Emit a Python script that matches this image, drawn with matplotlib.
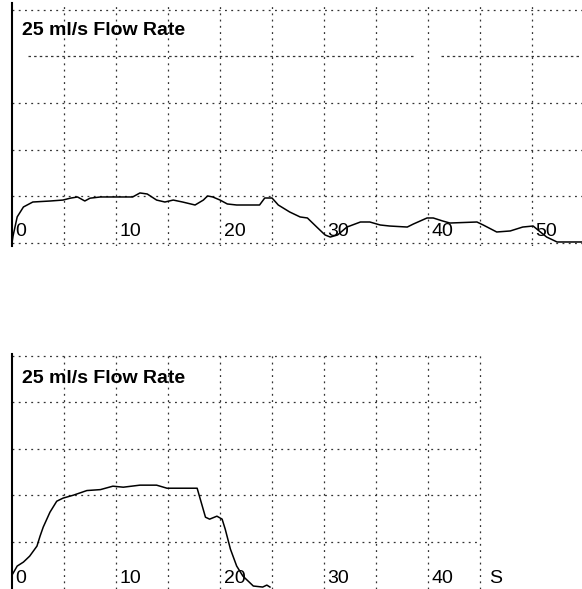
import matplotlib
matplotlib.use('Agg')
import matplotlib.pyplot as plt

plt.rcParams['font.family'] = ['Liberation Sans', 'DejaVu Sans']

# first recording: time (s) and flow (ml/s)
t1 = [0, 0.1, 0.5, 1.1, 2.0, 3.7, 4.9, 5.6, 6.3, 7.0, 7.5, 8.5, 11.6, 12.3, 13.0,
      13.9, 14.7, 15.5, 16.4, 17.6, 18.4, 18.8, 19.3, 20.0, 20.7, 21.6, 23.8, 24.3,
      25.0, 25.6, 26.7, 27.7, 28.4, 29.3, 30.1, 30.6, 31.3, 32.2, 33.5, 34.4, 35.4,
      36.3, 38.0, 38.6, 39.9, 40.5, 41.4, 42.1, 44.7, 45.3, 46.6, 47.9, 49.1, 50.1,
      50.8, 51.4, 52.4, 54.9]
q1 = [0, 0.75, 2.8, 3.86, 4.39, 4.5, 4.6, 4.8, 4.93, 4.5, 4.8, 4.93, 4.93, 5.36, 5.25,
      4.6, 4.39, 4.6, 4.39, 4.07, 4.6, 5.04, 4.93, 4.6, 4.18, 4.07, 4.07, 4.82,
      4.82, 4.07, 3.32, 2.79, 2.68, 1.71, 0.86, 0.64, 0.86, 1.71, 2.25, 2.25, 1.93,
      1.82, 1.71, 2.04, 2.68, 2.68, 2.36, 2.14, 2.25, 1.93, 1.18, 1.29, 1.71, 1.82,
      1.18, 0.64, 0.11, 0.11]

# second recording
t2 = [0, 0.5, 1.1, 1.7, 2.4, 2.7, 3.0, 3.65, 4.3, 4.9, 5.9, 7.2, 8.5, 9.7, 10.7,
      12.3, 13.9, 14.9, 17.8, 18.3, 18.6, 19.0, 19.7, 20.2, 20.5, 21.0, 21.6, 22.2,
      23.2, 24.1, 24.5, 24.8]
q2 = [1.4, 2.37, 2.8, 3.44, 4.52, 5.6, 6.56, 8.17, 9.35, 9.68, 10.0, 10.5, 10.6,
      10.97, 10.86, 11.08, 11.08, 10.75, 10.75, 8.8, 7.63, 7.42, 7.74, 7.42, 6.34,
      4.19, 2.37, 1.29, 0.22, 0.11, 0.32, 0.11]

labels1 = [0, 10, 20, 30, 40, 50]
labels2 = [0, 10, 20, 30, 40]
title = '25 ml/s Flow Rate'

grid_kw = dict(color='#333333', lw=0.9, ls=(0, (1.5, 3.5)))

fig = plt.figure(figsize=(5.82, 5.89), dpi=100)
W, H = 582, 589

# top panel
ax1 = fig.add_axes([12 / W, (H - 246) / H, 570 / W, 243 / H])
ax1.set_xlim(0, 54.8)
ax1.set_ylim(-0.32, 25.7)
for x in range(5, 55, 5):
    ax1.axvline(x, **grid_kw)
for y in [0, 5, 10, 15, 25]:
    ax1.axhline(y, **grid_kw)
ax1.hlines(20, 1.5, 38.7, color='#333333', lw=0.9, ls=(0, (2, 2.5)))
ax1.hlines(20, 41.2, 54.8, color='#333333', lw=0.9, ls=(0, (2, 2.5)))
ax1.plot(t1, q1, color='black', lw=1.1)
for v in labels1:
    ax1.text(v + 0.35, 1.2, str(v), fontsize=14, ha='left', va='center')
ax1.text(1.0, 22.8, title, fontsize=14, fontweight='bold', ha='left', va='center')

# bottom panel
ax2 = fig.add_axes([12 / W, 0, 570 / W, 235 / H])
ax2.set_xlim(0, 54.8)
ax2.set_ylim(-0.1, 25.2)
for x in range(5, 50, 5):
    ax2.axvline(x, **grid_kw)
for y in [5, 10, 15, 20, 25]:
    ax2.hlines(y, 0, 45, **grid_kw)
ax2.plot(t2, q2, color='black', lw=1.1)
for v in labels2:
    ax2.text(v + 0.35, 1.0, str(v), fontsize=14, ha='left', va='center')
ax2.text(45.9, 1.0, 'S', fontsize=14, ha='left', va='center')
ax2.text(1.0, 22.6, title, fontsize=14, fontweight='bold', ha='left', va='center')

for ax in (ax1, ax2):
    for side in ['top', 'right', 'bottom']:
        ax.spines[side].set_visible(False)
    ax.spines['left'].set_linewidth(1.5)
    ax.set_xticks([])
    ax.set_yticks([])
    ax.patch.set_alpha(0)

fig.savefig('out.png', dpi=100)
